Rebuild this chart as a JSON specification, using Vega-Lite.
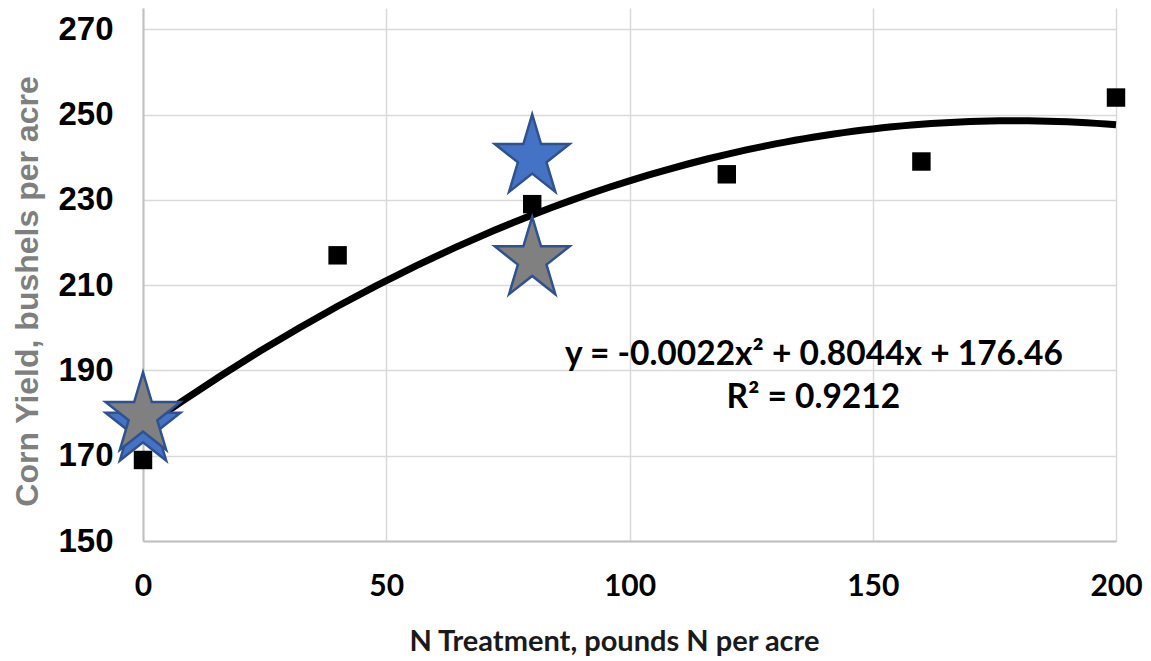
{
  "$schema": "https://vega.github.io/schema/vega-lite/v6.json",
  "width": 973,
  "height": 533,
  "autosize": {"type": "none"},
  "padding": {"left": 143, "top": 8, "right": 35, "bottom": 120},
  "background": "white",
  "config": {
    "view": {"stroke": null},
    "axis": {"gridColor": "#d9d9d9", "gridWidth": 1.5, "domainColor": "#bfbfbf", "domainWidth": 2, "ticks": false, "labelFlush": false}
  },
  "datasets": {
    "obs": [
      {"n": 0, "yield": 169},
      {"n": 40, "yield": 217},
      {"n": 80, "yield": 229},
      {"n": 120, "yield": 236},
      {"n": 160, "yield": 239},
      {"n": 200, "yield": 254}
    ],
    "stars": [
      {"n": 80, "yield": 240, "kind": "blue"},
      {"n": 0, "yield": 177, "kind": "blue"},
      {"n": 80, "yield": 216, "kind": "gray"},
      {"n": 0, "yield": 179.5, "kind": "gray"}
    ],
    "notes": [
      {"n": 137.9, "yield": 191.3, "label": "y = -0.0022x² + 0.8044x + 176.46"},
      {"n": 137.8, "yield": 181.3, "label": "R² = 0.9212"}
    ]
  },
  "layer": [
    {
      "data": {"name": "obs"},
      "transform": [{"regression": "yield", "on": "n", "method": "poly", "order": 2, "extent": [0, 200]}],
      "mark": {"type": "line", "color": "black", "strokeWidth": 7, "strokeCap": "butt"},
      "encoding": {
        "x": {
          "field": "n", "type": "quantitative",
          "scale": {"domain": [0, 200], "nice": false, "zero": false},
          "axis": {
            "values": [0, 50, 100, 150, 200],
            "title": "N Treatment, pounds N per acre",
            "labelFont": "Lato", "labelFontWeight": "bold", "labelFontSize": 30, "labelColor": "black", "labelPadding": 30,
            "titleFont": "Lato", "titleFontWeight": "bold", "titleFontSize": 29, "titleColor": "#1a1a1a",
            "titleX": 471, "titleY": 100, "titleAlign": "center", "titleBaseline": "middle"
          }
        },
        "y": {
          "field": "yield", "type": "quantitative",
          "scale": {"domain": [150, 275], "nice": false, "zero": false},
          "axis": {
            "values": [150, 170, 190, 210, 230, 250, 270],
            "title": "Corn Yield, bushels per acre",
            "labelFont": "Liberation Sans", "labelFontWeight": "bold", "labelFontSize": 33, "labelColor": "black", "labelPadding": 30,
            "titleFont": "Liberation Sans", "titleFontWeight": "bold", "titleFontSize": 32, "titleColor": "#7f7f7f",
            "titleX": -116, "titleY": 283, "titleAlign": "center", "titleBaseline": "middle", "titleAngle": -90
          }
        }
      }
    },
    {
      "data": {"name": "stars"},
      "mark": {"type": "point", "filled": true, "opacity": 1, "stroke": "#2F528F", "strokeWidth": 2.5,
        "shape": "M0,-1L0.2065,-0.309L0.875,-0.309L0.3342,0.118L0.5408,0.809L0,0.382L-0.5408,0.809L-0.3342,0.118L-0.875,-0.309L-0.2065,-0.309Z",
        "size": 7327},
      "encoding": {
        "x": {"field": "n", "type": "quantitative"},
        "y": {"field": "yield", "type": "quantitative"},
        "fill": {"field": "kind", "type": "nominal", "scale": {"domain": ["blue", "gray"], "range": ["#4472C4", "#808080"]}, "legend": null}
      }
    },
    {
      "data": {"name": "obs"},
      "mark": {"type": "point", "shape": "square", "filled": true, "opacity": 1, "color": "black", "size": 340},
      "encoding": {
        "x": {"field": "n", "type": "quantitative"},
        "y": {"field": "yield", "type": "quantitative"}
      }
    },
    {
      "data": {"name": "notes"},
      "mark": {"type": "text", "font": "Lato", "fontWeight": "bold", "fontSize": 33.5, "color": "black", "align": "center", "baseline": "alphabetic"},
      "encoding": {
        "x": {"field": "n", "type": "quantitative"},
        "y": {"field": "yield", "type": "quantitative"},
        "text": {"field": "label"}
      }
    }
  ]
}
